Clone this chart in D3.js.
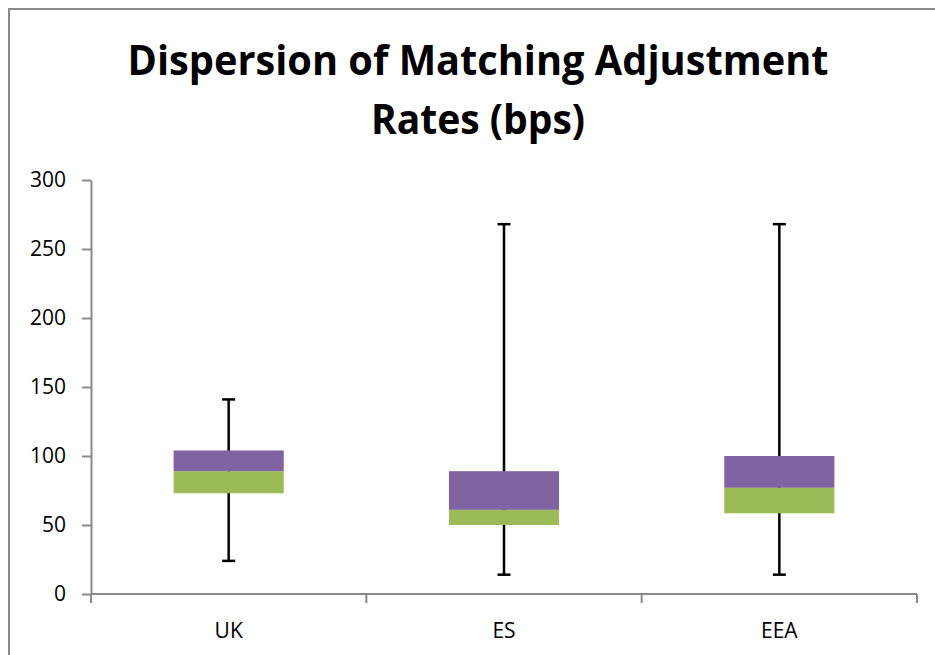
<!DOCTYPE html>
<html>
<head>
<meta charset="utf-8">
<script src="https://cdn.jsdelivr.net/npm/d3@7/dist/d3.min.js"></script>
<style>
  body { margin: 0; background: #fff; }
  text { font-family: "Open Sans", "Liberation Sans", sans-serif; }
</style>
</head>
<body>
<script>
var width = 935;
var height = 655;

// box plot values (bps)
var categories = ["UK", "ES", "EEA"];
var whiskerLow = [24, 14, 14];
var q1 = [73, 50, 58.5];
var median = [89, 61, 77];
var q3 = [104, 89, 100];
var whiskerHigh = [141, 268, 268];
var yTicks = [0, 50, 100, 150, 200, 250, 300];
var titleLines = ["Dispersion of Matching Adjustment", "Rates (bps)"];

var purple = "#8064A2";
var green = "#9BBB59";
var axisGrey = "#8a8a8a";

var svg = d3.select("body").append("svg")
  .attr("width", width)
  .attr("height", height);

// chart frame (runs off the right/bottom edge)
svg.append("rect")
  .attr("x", 9).attr("y", 9)
  .attr("width", width + 20).attr("height", height + 20)
  .attr("fill", "white")
  .attr("stroke", axisGrey)
  .attr("stroke-width", 2);

var x = d3.scaleBand().domain(categories).range([91, 917]).paddingInner(0).paddingOuter(0);
var y = d3.scaleLinear().domain([0, 300]).range([594, 180]);

// title
var title = svg.append("g").attr("font-weight", "bold").attr("fill", "black");
title.append("text")
  .attr("x", 478).attr("y", 75)
  .attr("text-anchor", "middle")
  .attr("font-size", 41)
  .attr("textLength", 701)
  .attr("lengthAdjust", "spacingAndGlyphs")
  .text(titleLines[0]);
title.append("text")
  .attr("x", 478).attr("y", 134)
  .attr("text-anchor", "middle")
  .attr("font-size", 41)
  .attr("textLength", 214)
  .attr("lengthAdjust", "spacingAndGlyphs")
  .text(titleLines[1]);

// y axis
var yAxis = svg.append("g")
  .attr("transform", "translate(91,0)")
  .call(d3.axisLeft(y).tickValues(yTicks).tickSize(9).tickSizeOuter(0).tickPadding(16));
yAxis.select(".domain").attr("stroke", axisGrey).attr("stroke-width", 2);
yAxis.selectAll(".tick line").attr("stroke", axisGrey).attr("stroke-width", 2);
yAxis.selectAll(".tick text")
  .attr("font-size", 21)
  .attr("fill", "black")
  .attr("font-family", "'Open Sans', sans-serif");

// x axis: line plus ticks on the category boundaries
var xAxis = svg.append("g").attr("transform", "translate(0," + y(0) + ")");
xAxis.append("line")
  .attr("x1", x.range()[0]).attr("x2", x.range()[1])
  .attr("stroke", axisGrey).attr("stroke-width", 2);
var bounds = categories.map(function (c) { return x(c); }).concat([x.range()[1]]);
xAxis.selectAll(".xtick").data(bounds).enter().append("line")
  .attr("class", "xtick")
  .attr("x1", function (d) { return d; }).attr("x2", function (d) { return d; })
  .attr("y1", 0).attr("y2", 9)
  .attr("stroke", axisGrey).attr("stroke-width", 2);
xAxis.selectAll(".xlabel").data(categories).enter().append("text")
  .attr("class", "xlabel")
  .attr("x", function (d) { return x(d) + x.bandwidth() / 2; })
  .attr("y", 44)
  .attr("text-anchor", "middle")
  .attr("font-size", 21)
  .attr("fill", "black")
  .text(function (d) { return d; });

// boxes
var boxW = x.bandwidth() * 0.4;
var capW = 13;
var boxes = svg.append("g").selectAll("g").data(categories).enter().append("g");

boxes.append("line")
  .attr("x1", function (d) { return x(d) + x.bandwidth() / 2; })
  .attr("x2", function (d) { return x(d) + x.bandwidth() / 2; })
  .attr("y1", function (d, i) { return y(whiskerLow[i]); })
  .attr("y2", function (d, i) { return y(whiskerHigh[i]); })
  .attr("stroke", "black").attr("stroke-width", 2.5);

[whiskerLow, whiskerHigh].forEach(function (arr) {
  boxes.append("line")
    .attr("x1", function (d) { return x(d) + x.bandwidth() / 2 - capW / 2; })
    .attr("x2", function (d) { return x(d) + x.bandwidth() / 2 + capW / 2; })
    .attr("y1", function (d, i) { return y(arr[i]); })
    .attr("y2", function (d, i) { return y(arr[i]); })
    .attr("stroke", "black").attr("stroke-width", 2.5);
});

boxes.append("rect")
  .attr("x", function (d) { return x(d) + (x.bandwidth() - boxW) / 2; })
  .attr("width", boxW)
  .attr("y", function (d, i) { return y(median[i]); })
  .attr("height", function (d, i) { return y(q1[i]) - y(median[i]); })
  .attr("fill", green);

boxes.append("rect")
  .attr("x", function (d) { return x(d) + (x.bandwidth() - boxW) / 2; })
  .attr("width", boxW)
  .attr("y", function (d, i) { return y(q3[i]); })
  .attr("height", function (d, i) { return y(median[i]) - y(q3[i]); })
  .attr("fill", purple);
</script>
</body>
</html>
